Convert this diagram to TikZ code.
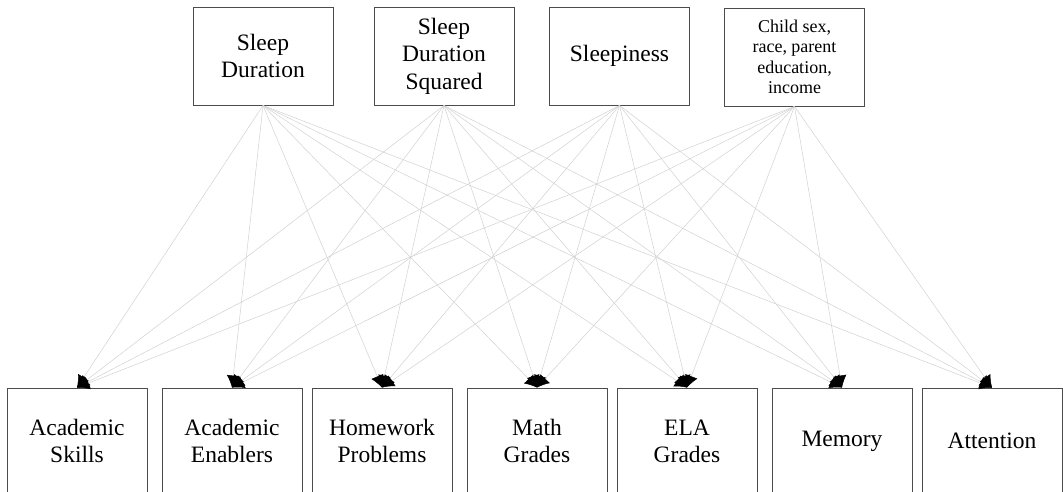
\documentclass[tikz,border=0pt]{standalone}
\usepackage{fontspec}
\setmainfont{Liberation Serif}
\usetikzlibrary{arrows.meta}
\begin{document}
\begin{tikzpicture}[x=1pt,y=-1pt,
  box/.style={draw=black!70, line width=0.9pt, fill=white, minimum width=140pt, align=center, inner sep=0pt},
  topbox/.style={box, minimum height=98pt, font=\rmfamily\fontsize{23.5}{27.5}\selectfont},
  smallbox/.style={box, minimum height=98pt, font=\rmfamily\fontsize{18}{20.5}\selectfont},
  botbox/.style={box, minimum height=106pt, font=\rmfamily\fontsize{23.5}{27}\selectfont},
  conn/.style={draw=black!18, line width=0.5pt, -{Latex[length=12pt,width=13pt,color=black]}}]
\useasboundingbox (0,0) rectangle (1063,491);
\clip (0,0) rectangle (1063,491);
\node[topbox] (sd) at (263,56) {Sleep\\Duration};
\node[topbox] (sq) at (444,56) {Sleep\\Duration\\Squared};
\node[topbox] (sl) at (619.5,56) {Sleepiness};
\node[smallbox] (cv) at (794.5,57) {Child sex,\\race, parent\\education,\\income};
\node[botbox] (as) at (77,441) {Academic\\Skills};
\node[botbox] (ae) at (232,441) {Academic\\Enablers};
\node[botbox] (hp) at (382,441) {Homework\\Problems};
\node[botbox] (mg) at (537,441) {Math\\Grades};
\node[botbox] (eg) at (687,441) {ELA\\Grades};
\node[botbox] (me) at (842,441) {Memory};
\node[botbox] (at) at (992,441) {Attention};
\foreach \s in {sd,sq,sl,cv}{
  \foreach \t in {as,ae,hp,mg,eg,me,at}{
    \draw[conn] (\s.south) -- (\t.north);
  }
}
\end{tikzpicture}
\end{document}
